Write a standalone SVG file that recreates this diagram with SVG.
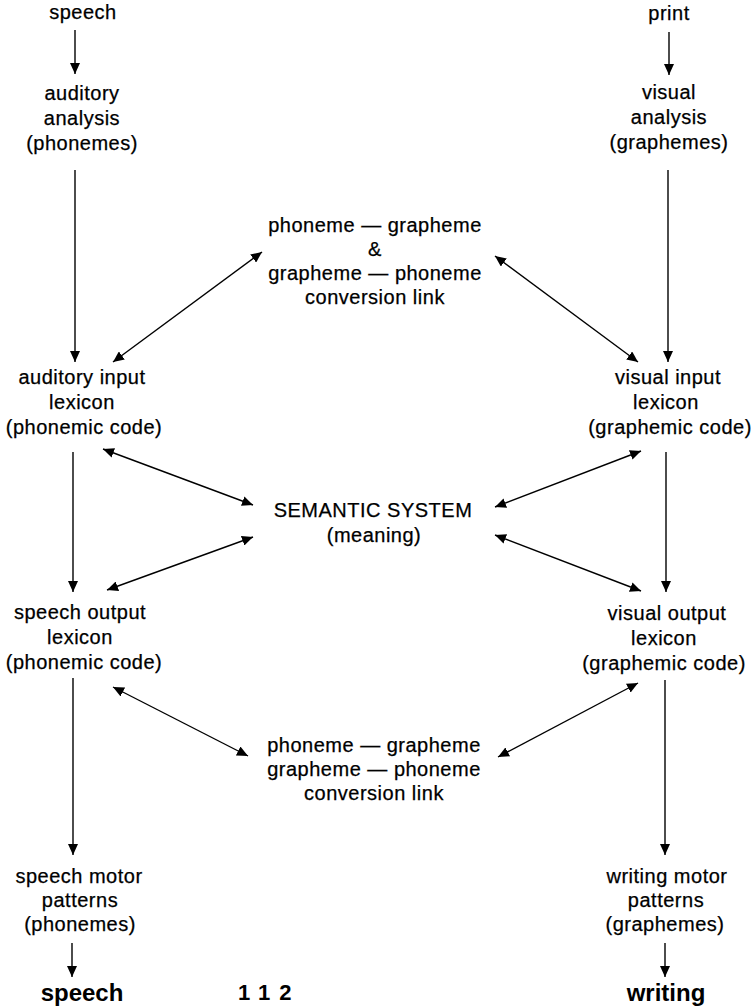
<svg xmlns="http://www.w3.org/2000/svg" width="752" height="1007" viewBox="0 0 752 1007">
  <style>
    .lbl { font-family: "Liberation Sans", Arial, sans-serif; font-size: 20px; letter-spacing: 0.5px; fill: #000; stroke: #000; stroke-width: 0.25; text-anchor: middle; }
    .end { font-family: "Liberation Sans", Arial, sans-serif; font-size: 24px; font-weight: bold; fill: #000; text-anchor: middle; }
    .page { font-family: "Liberation Sans", Arial, sans-serif; font-size: 22px; font-weight: bold; fill: #000; letter-spacing: 9px; }
    .edge { stroke: #000; stroke-width: 1.4; fill: none; }
    .one { marker-end: url(#head); }
    .two { marker-start: url(#head); marker-end: url(#head); }
  </style>
  <defs>
    <marker id="head" viewBox="0 0 11 10" refX="11" refY="5" markerWidth="11" markerHeight="10" markerUnits="userSpaceOnUse" orient="auto-start-reverse">
      <path d="M0,0 L11,5 L0,10 z" fill="#000"/>
    </marker>
  </defs>
  <rect width="752" height="1007" fill="#fff"/>

  <g id="connectors">
    <!-- input pathways -->
    <line class="edge one" x1="75" y1="30" x2="75" y2="74"/>
    <line class="edge one" x1="669" y1="32" x2="669" y2="75"/>
    <line class="edge one" x1="75" y1="170" x2="75" y2="362"/>
    <line class="edge one" x1="668" y1="170" x2="668" y2="362"/>
    <!-- upper conversion link -->
    <line class="edge two" x1="113" y1="362" x2="262" y2="252"/>
    <line class="edge two" x1="638" y1="362" x2="495" y2="256"/>
    <!-- lexicon to lexicon -->
    <line class="edge one" x1="73" y1="452" x2="73" y2="592"/>
    <line class="edge one" x1="666" y1="452" x2="666" y2="592"/>
    <!-- semantic system links -->
    <line class="edge two" x1="103" y1="449" x2="253" y2="505"/>
    <line class="edge two" x1="107" y1="590" x2="253" y2="537"/>
    <line class="edge two" x1="641" y1="451" x2="495" y2="507"/>
    <line class="edge two" x1="641" y1="591" x2="495" y2="535"/>
    <!-- lower conversion link -->
    <line class="edge two" x1="113" y1="687" x2="248" y2="756"/>
    <line class="edge two" x1="638" y1="683" x2="498" y2="757"/>
    <!-- output pathways -->
    <line class="edge one" x1="73" y1="678" x2="73" y2="855"/>
    <line class="edge one" x1="665" y1="680" x2="665" y2="855"/>
    <line class="edge one" x1="72" y1="943" x2="72" y2="977"/>
    <line class="edge one" x1="665" y1="943" x2="665" y2="977"/>
  </g>

  <g id="speech-in">
    <text class="lbl" x="83" y="19">speech</text>
  </g>
  <g id="print-in">
    <text class="lbl" x="669" y="20">print</text>
  </g>
  <g id="auditory-analysis">
    <text class="lbl" x="82" y="100">auditory</text>
    <text class="lbl" x="82" y="125">analysis</text>
    <text class="lbl" x="82" y="150">(phonemes)</text>
  </g>
  <g id="visual-analysis">
    <text class="lbl" x="669" y="99">visual</text>
    <text class="lbl" x="669" y="124">analysis</text>
    <text class="lbl" x="669" y="149">(graphemes)</text>
  </g>
  <g id="conversion-upper">
    <text class="lbl" x="375" y="232">phoneme — grapheme</text>
    <text class="lbl" x="375" y="256">&amp;</text>
    <text class="lbl" x="375" y="280">grapheme — phoneme</text>
    <text class="lbl" x="375" y="304">conversion link</text>
  </g>
  <g id="auditory-input-lexicon">
    <text class="lbl" x="82" y="384">auditory input</text>
    <text class="lbl" x="82" y="409">lexicon</text>
    <text class="lbl" x="84" y="434">(phonemic code)</text>
  </g>
  <g id="visual-input-lexicon">
    <text class="lbl" x="668" y="384">visual input</text>
    <text class="lbl" x="666" y="409">lexicon</text>
    <text class="lbl" x="670" y="434">(graphemic code)</text>
  </g>
  <g id="semantic-system">
    <text class="lbl" x="373" y="517">SEMANTIC SYSTEM</text>
    <text class="lbl" x="374" y="542">(meaning)</text>
  </g>
  <g id="speech-output-lexicon">
    <text class="lbl" x="80" y="619">speech output</text>
    <text class="lbl" x="80" y="644">lexicon</text>
    <text class="lbl" x="84" y="669">(phonemic code)</text>
  </g>
  <g id="visual-output-lexicon">
    <text class="lbl" x="667" y="620">visual output</text>
    <text class="lbl" x="664" y="645">lexicon</text>
    <text class="lbl" x="664" y="670">(graphemic code)</text>
  </g>
  <g id="conversion-lower">
    <text class="lbl" x="374" y="752">phoneme — grapheme</text>
    <text class="lbl" x="374" y="776">grapheme — phoneme</text>
    <text class="lbl" x="374" y="800">conversion link</text>
  </g>
  <g id="speech-motor-patterns">
    <text class="lbl" x="79" y="883">speech motor</text>
    <text class="lbl" x="80" y="907">patterns</text>
    <text class="lbl" x="80" y="931">(phonemes)</text>
  </g>
  <g id="writing-motor-patterns">
    <text class="lbl" x="667" y="883">writing motor</text>
    <text class="lbl" x="666" y="907">patterns</text>
    <text class="lbl" x="665" y="931">(graphemes)</text>
  </g>
  <g id="speech-out">
    <text class="end" x="82" y="1001">speech</text>
  </g>
  <g id="writing-out">
    <text class="end" x="666" y="1001">writing</text>
  </g>

  <!-- page number at the foot of the page -->
  <text class="page" x="238" y="1000">112</text>
</svg>
